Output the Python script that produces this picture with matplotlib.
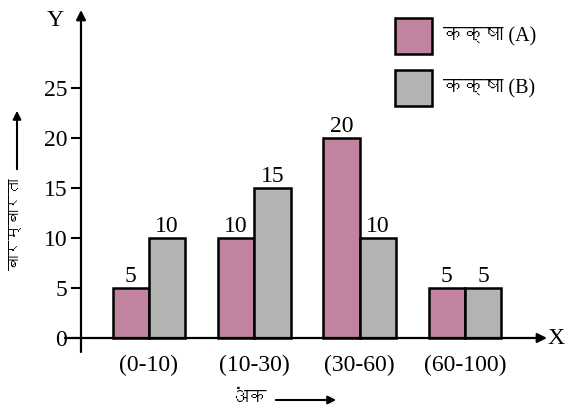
import matplotlib
matplotlib.use("Agg")
import matplotlib.pyplot as plt
from matplotlib import font_manager
from matplotlib.ft2font import FT2Font
from matplotlib.patches import Rectangle, FancyArrowPatch
import numpy as np

# ----------
# Data
# ----------
groups = ["(0-10)", "(10-30)", "(30-60)", "(60-100)"]
class_a = [5, 10, 20, 5]
class_b = [10, 15, 10, 5]
y_ticks = [0, 5, 10, 15, 20, 25]
legend_labels = ["कक्षा (A)", "कक्षा (B)"]
y_label = "बारम्बारता"
x_label = "अंक"

pink = "#C083A0"
grey = "#B3B3B3"


# find an installed font that has Devanagari glyphs
def has_glyph(path, ch):
    try:
        return FT2Font(path).get_char_index(ord(ch)) != 0
    except Exception:
        return False


deva = []
for f in font_manager.fontManager.ttflist:
    if f.name not in deva and has_glyph(f.fname, "क"):
        deva.append(f.name)

fonts = ["Liberation Serif"] + deva + ["DejaVu Sans"]
plt.rcParams["font.family"] = fonts
fs = 17

W, H = 578, 412
fig = plt.figure(figsize=(W / 100, H / 100), dpi=100)

# axes box in pixels: left edge is the y axis
left, right, top, bottom = 81, 550, 8, 352
ax = fig.add_axes([left / W, 1 - bottom / H, (right - left) / W, (bottom - top) / H])

px_per_x = 105.3
cx0 = 149
px_per_y = 10.0
y0_px = 338


def xd(px):
    return (px - cx0) / px_per_x


def yd(py):
    return (y0_px - py) / px_per_y


ax.set_xlim(xd(left), xd(right))
ax.set_ylim(yd(bottom), yd(top))

x = np.arange(len(groups))
w = 0.345
bars_a = ax.bar(x - w / 2, class_a, w, color=pink, edgecolor="black", linewidth=1.8, zorder=3)
bars_b = ax.bar(x + w / 2, class_b, w, color=grey, edgecolor="black", linewidth=1.8, zorder=3)

for bars, vals in [(bars_a, class_a), (bars_b, class_b)]:
    for b, v in zip(bars, vals):
        ax.annotate(str(v), (b.get_x() + b.get_width() / 2, v), xytext=(0, 1),
                    textcoords="offset points", ha="center", va="bottom", fontsize=fs)

for s in ax.spines.values():
    s.set_visible(False)

# axis lines with arrow heads
ax.annotate("", xy=(xd(547), 0), xytext=(xd(65), 0),
            arrowprops=dict(arrowstyle="-|>", color="black", lw=1.6, mutation_scale=14,
                            shrinkA=0, shrinkB=0), annotation_clip=False, zorder=4)
ax.annotate("", xy=(xd(left), yd(10)), xytext=(xd(left), yd(bottom)),
            arrowprops=dict(arrowstyle="-|>", color="black", lw=1.6, mutation_scale=14,
                            shrinkA=0, shrinkB=0), annotation_clip=False, zorder=4)

ax.set_yticks(y_ticks)
ax.tick_params(axis="y", direction="out", length=7, width=1.5, labelsize=fs, pad=3)
ax.set_xticks(x, groups)
ax.tick_params(axis="x", length=0, labelsize=fs, pad=2)

fig.text(55 / W, 1 - 20 / H, "Y", fontsize=fs, ha="center", va="center")
fig.text(556 / W, 1 - 338 / H, "X", fontsize=fs, ha="center", va="center")

# legend
for i, (lab, col) in enumerate(zip(legend_labels, [pink, grey])):
    ytop = 18 + i * 52
    fig.add_artist(Rectangle((395 / W, 1 - (ytop + 36) / H), 37 / W, 36 / H,
                             transform=fig.transFigure, facecolor=col,
                             edgecolor="black", linewidth=1.8))
    fig.text(443 / W, 1 - (ytop + 19) / H, lab, fontsize=14.5, ha="left", va="center")

# axis titles with arrows
fig.text(17 / W, 1 - 224 / H, y_label, rotation=90, fontsize=11, ha="center", va="center")
fig.add_artist(FancyArrowPatch((17 / W, 1 - 172 / H), (17 / W, 1 - 108 / H),
                               transform=fig.transFigure, arrowstyle="-|>",
                               mutation_scale=12, lw=1.5, color="black"))
fig.text(248 / W, 1 - 399 / H, x_label, fontsize=13.5, ha="center", va="center")
fig.add_artist(FancyArrowPatch((273 / W, 1 - 400 / H), (339 / W, 1 - 400 / H),
                               transform=fig.transFigure, arrowstyle="-|>",
                               mutation_scale=12, lw=1.5, color="black"))

fig.savefig("out.png", dpi=100)
